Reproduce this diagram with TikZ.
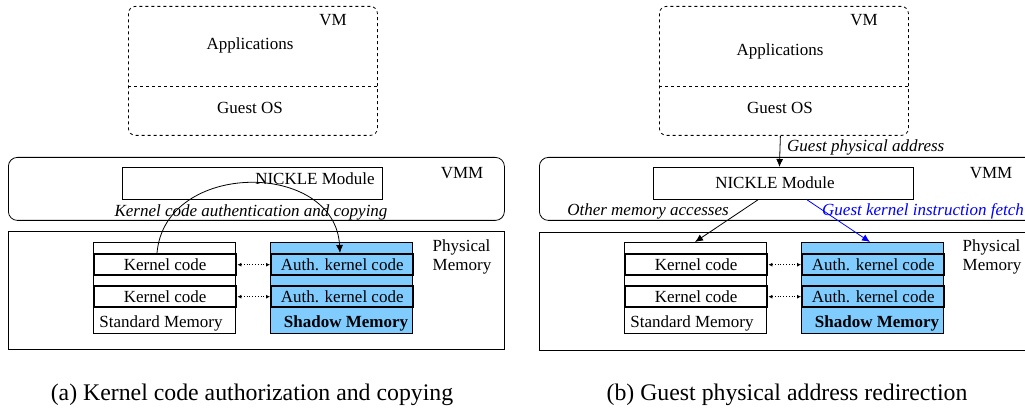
\documentclass[tikz,border=0pt]{standalone}
\usepackage{fontspec}
\setmainfont{Liberation Serif}
\newfontfamily\tnr{Liberation Serif}
\usetikzlibrary{arrows.meta}
\definecolor{shadowblue}{RGB}{128,204,255}
\definecolor{fetchblue}{RGB}{0,0,255}
\begin{document}
\begin{tikzpicture}[x=1pt,y=-1pt,
  txt/.style={font=\tnr\fontsize{17}{19.5}\selectfont, inner sep=0pt},
  itxt/.style={font=\tnr\fontsize{17}{19.5}\selectfont\itshape, inner sep=0pt},
  captxt/.style={font=\tnr\fontsize{23.8}{27}\selectfont, inner sep=0pt},
  box/.style={draw, line width=0.8pt, inner sep=0pt, anchor=north west},
  vmbox/.style={box, dashed, rounded corners=7pt, minimum width=249pt, minimum height=129pt},
  vmmbox/.style={box, rounded corners=9pt, minimum height=63pt},
  pmbox/.style={box, minimum height=118pt},
  nickle/.style={box, minimum width=260pt, minimum height=32pt},
  column/.style={box, minimum width=142pt, minimum height=91pt},
  kbox/.style={box, line width=2.4pt, minimum width=142pt, minimum height=21pt},
  link/.style={line width=0.8pt, dotted, {Latex[length=4pt,width=4pt]}-{Latex[length=4pt,width=4pt]}},
  arr/.style={line width=0.8pt, -{Latex[length=8pt,width=7pt]}}
]
\clip (0,0) rectangle (1025,419);
\fill[white] (0,0) rectangle (1025,419);

% ===== Panel (a) =====
\node[vmbox] (vmA) at (128,6) {};
\draw[dashed, line width=0.8pt] (vmA.west |- 0,86) coordinate (dAl) -- (vmA.east |- 0,86) coordinate (dAr);
\node[txt] (vmlA) at (333,20) {VM};
\node[txt] (appA) at (250,45) {Applications};
\node[txt] (gosA) at (250,108) {Guest OS};

\node[vmmbox, minimum width=496pt] (vmmA) at (8,157) {};
\node[nickle] (nkA) at (122,167) {};
\node[txt] (nkAt) at (315,179) {NICKLE Module};
\node[txt] (vmmlA) at (462,173) {VMM};
\node[itxt] (authA) at (251,212) {Kernel code authentication and copying};

\node[pmbox, minimum width=496pt] (pmA) at (8,231) {};
\node[txt, align=left] (pmlA) at (462,257) {Physical\\Memory};
\node[column] (stdA) at (93,242) {};
\node[column, fill=shadowblue] (shA) at (270,242) {};
\node[kbox] (kcA1) at (93,253) {};
\node[kbox] (kcA2) at (93,285) {};
\node[kbox, fill=shadowblue] (akA1) at (270,253) {};
\node[kbox, fill=shadowblue] (akA2) at (270,285) {};
\node[txt] at (kcA1.center) {Kernel code};
\node[txt] at (kcA2.center) {Kernel code};
\node[txt] at (akA1.center) {Auth. kernel code};
\node[txt] at (akA2.center) {Auth. kernel code};
\node[txt] (stlA) at (161,323) {Standard Memory};
\node[txt, font=\tnr\fontsize{17}{19.5}\selectfont\bfseries] (shlA) at (346,323) {Shadow Memory};
\draw[link] (kcA1.east) -- (akA1.west);
\draw[link] (kcA2.east) -- (akA2.west);
\draw[arr] ([xshift=64pt]kcA1.north west) .. controls (165,160) and (335,160) .. ([xshift=70pt]akA1.north west);

\node[captxt] (capA) at (252,395) {(a) Kernel code authorization and copying};

% ===== Panel (b) =====
\node[vmbox] (vmB) at (659,6) {};
\draw[dashed, line width=0.8pt] (vmB.west |- 0,86) coordinate (dBl) -- (vmB.east |- 0,86) coordinate (dBr);
\node[txt] (vmlB) at (864,20) {VM};
\node[txt] (appB) at (780,51) {Applications};
\node[txt] (gosB) at (780,108) {Guest OS};

\node[vmmbox, minimum width=495pt] (vmmB) at (539,157) {};
\node[nickle] (nkB) at (653,167) {};
\node[txt] (nkBt) at (775,183) {NICKLE Module};
\node[txt] (vmmlB) at (991,173) {VMM};
\node[itxt, anchor=west] (gpaB) at (787,147) {Guest physical address};
\node[itxt] (omaB) at (648,211) {Other memory accesses};
\node[itxt, anchor=west, text=fetchblue] (gkiB) at (822,211) {Guest kernel instruction fetch};

\node[pmbox, minimum width=495pt] (pmB) at (539,232) {};
\node[txt, align=left] (pmlB) at (992,257) {Physical\\Memory};
\node[column] (stdB) at (624,242) {};
\node[column, fill=shadowblue] (shB) at (801,242) {};
\node[kbox] (kcB1) at (624,253) {};
\node[kbox] (kcB2) at (624,285) {};
\node[kbox, fill=shadowblue] (akB1) at (801,253) {};
\node[kbox, fill=shadowblue] (akB2) at (801,285) {};
\node[txt] at (kcB1.center) {Kernel code};
\node[txt] at (kcB2.center) {Kernel code};
\node[txt] at (akB1.center) {Auth. kernel code};
\node[txt] at (akB2.center) {Auth. kernel code};
\node[txt] (stlB) at (692,323) {Standard Memory};
\node[txt, font=\tnr\fontsize{17}{19.5}\selectfont\bfseries] (shlB) at (877,323) {Shadow Memory};
\draw[link] (kcB1.east) -- (akB1.west);
\draw[link] (kcB2.east) -- (akB2.west);

\draw[arr] ([xshift=-3.5pt]vmB.south) -- ([xshift=-4pt]nkB.north);
\draw[arr] ([xshift=105pt]nkB.south west) -- ([xshift=71pt]stdB.north west);
\draw[arr, fetchblue] ([xshift=154pt]nkB.south west) -- ([xshift=69pt]shB.north west);

\node[captxt] (capB) at (787,395) {(b) Guest physical address redirection};
\end{tikzpicture}
\end{document}
